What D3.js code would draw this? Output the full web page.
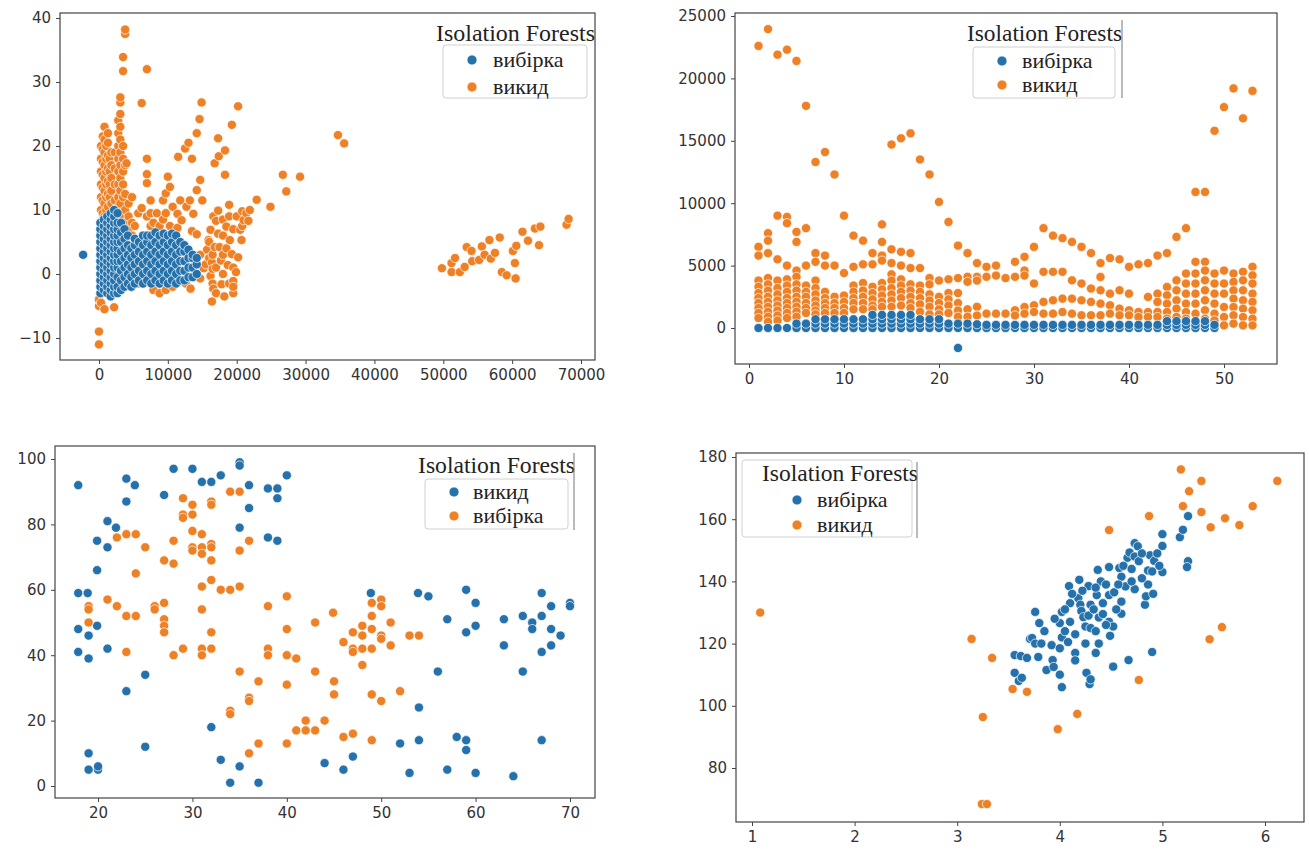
<!DOCTYPE html>
<html><head><meta charset="utf-8">
<script src="https://cdn.jsdelivr.net/npm/d3@7"></script>
<style>body{margin:0;background:#fff}</style>
</head><body><svg id="c" width="1309" height="851"></svg>
<script>
// ---------- DATA ----------
// Panel 1 (top-left): columns [x, [y values]]
const p1Blue = [
 [-2300,[3]],
 [200,[-3,-2,-1,0,1,2,3,4,5,6,7,8]],
 [700,[-2.5,-1.5,-0.5,0.5,1.5,2.5,3.5,4.5,5.5,6.5,7.5,8.5]],
 [1200,[-3,-2,-1,0,1,2,3,4,5,6,7,8,9]],
 [1700,[-3.5,-2.5,-1.5,-0.5,0.5,1.5,2.5,3.5,4.5,5.5,6.5,7.5,8.5,9.5]],
 [2200,[-3,-2,-1,0,1,2,3,4,5,6,7,8,9,10]],
 [2700,[-3,-2,-0.5,1,2,3,4,5,6,7,8,9.5]],
 [3200,[-2.5,-1,0.5,2,3.5,5,6.5,8]],
 [3700,[-2,-0.5,1,2.5,4,5.5,7]],
 [4200,[-1.5,0,1.5,3,4.5,6]],
 [4700,[-2,-0.5,1,2.5,4]],
 [5200,[-1.5,0,1.5,3,4.5,5.5]],
 [5800,[-1,0.5,2,3.5,5]],
 [6400,[-1.5,0,1.5,3,4.5,6]],
 [7000,[-1,0.5,2,3.5,5,6]],
 [7600,[-1.5,0,1.5,3,4.5,6]],
 [8200,[-1,0.5,2,3.5,5,6.5]],
 [8800,[-1.5,0,1.5,3,4.5,6]],
 [9400,[-1,0.5,2,3.5,5,6.3]],
 [10000,[-1.5,0,1.5,3,4.5,6]],
 [10600,[-1,0.5,2,3.5,5,6.3]],
 [11200,[-1.5,0,1.5,3,4.5,6]],
 [11800,[-1,0.5,2,3.5,5]],
 [12400,[-1,0.5,2,3.5,4.5]],
 [13000,[-0.5,1,2.5,3.8]],
 [13600,[-0.5,1,2.5,3]],
 [14200,[0,1.5,2.5]]
];
const p1Orange = [
 [0,[-11,-9,-5,-4]],
 [300,[-4.5,8,10,12,14,16,18,20]],
 [550,[9.5,11.5,13.5,15.5,17.5,19.5,21.5]],
 [800,[-5.5,9,11,13,15,17,19,21,23]],
 [1050,[10,12,14,16,18,20]],
 [1300,[10.5,12.5,14.5,16.5,18.5,20.5,22]],
 [1550,[12,14,16,18]],
 [1800,[11,13,15,17,19]],
 [2200,[-5.2]],
 [2300,[11.5,14,16.5,19]],
 [2800,[10.5,12,14,16,18,20,22,24]],
 [3100,[11,13,15,17,19,21,23,25,26.8,27.6]],
 [3500,[9,12,14,16,18,20,31.7,33.9]],
 [3800,[8,10,12.5,17,37.5,38.2]],
 [4000,[17.3]],
 [4300,[7,9,11]],
 [4800,[6,8,12,-2]],
 [5200,[7.5]],
 [5700,[9.5,-1.5]],
 [6200,[10.3,26.7]],
 [6960,[9,14.2,15.6,18,32]],
 [7500,[7.5,9.5,11.5]],
 [7900,[8,-2.5]],
 [8400,[9.5]],
 [8800,[7.5,-3]],
 [9300,[11.5,8.5]],
 [9700,[12.6,9.5,-2.5]],
 [10000,[15.2]],
 [10300,[13.6,7.5]],
 [10700,[10.5,-2]],
 [11400,[9.4,7.2]],
 [11500,[18.3]],
 [11800,[11.5]],
 [12000,[8.4]],
 [12500,[19.6]],
 [12600,[-1.5]],
 [12700,[10.5]],
 [13000,[20.5]],
 [13200,[11.5]],
 [13300,[-2.3]],
 [13500,[18,6.7]],
 [13700,[9.4]],
 [14200,[22,13.1,6.2]],
 [14600,[24.2]],
 [14700,[14.7,3,-0.7]],
 [14900,[26.8]],
 [15000,[11.5]],
 [15200,[0.9]],
 [15500,[1.5]],
 [15700,[3.8]],
 [15900,[5.3]],
 [16000,[2.5,5]],
 [16200,[6.9,-0.3]],
 [16400,[1.8,-4.3]],
 [16500,[-1.5,0.8,3]],
 [16600,[9,-2.3]],
 [16800,[4.2,17.3]],
 [17000,[8.3,1,-3]],
 [17300,[6.3,9.9,21.2]],
 [17400,[18.4]],
 [17500,[4.2]],
 [17700,[2.1]],
 [17800,[-1.6]],
 [18000,[0,3,6,8.5]],
 [18200,[-3.5]],
 [18300,[19.3,15.5]],
 [18500,[7.4,4]],
 [18700,[1.4]],
 [18900,[10.8,9,-1.5]],
 [19000,[5.3]],
 [19300,[3.1,23.3]],
 [19500,[1,-1.1,-3,7,-2]],
 [19900,[0.3]],
 [20000,[9]],
 [20200,[2.6,26.2]],
 [20500,[6.9]],
 [20700,[5.3]],
 [20800,[7.5,9.8]],
 [21000,[8.4]],
 [21400,[9.5]],
 [21700,[8.3]],
 [21900,[10]],
 [22900,[11.6]],
 [24900,[10.5]],
 [26700,[15.5]],
 [27200,[12.9]],
 [29200,[15.2]],
 [34700,[21.7]],
 [35600,[20.4]],
 [49800,[0.9]],[51200,[1.7,0.3]],[51700,[2.5]],[52400,[0.3]],[53100,[1.1]],
 [53400,[4.2]],[54100,[3.6]],[54200,[2]],[55200,[2.2]],[55600,[4.3]],[56000,[3]],
 [56700,[5.3]],[56900,[2.4]],[57500,[3.3]],[58200,[5.7]],[58500,[0.3]],[59200,[-0.2]],
 [60500,[-0.7]],[60400,[1.7]],[60100,[3.6]],[60600,[4.4]],[61500,[6.6]],[62300,[5.2]],
 [63300,[7.1]],[64100,[7.4]],[63900,[4.5]],[67900,[7.7]],[68200,[8.6]]
];
const p1XTicks = [0,10000,20000,30000,40000,50000,60000,70000];
const p1YTicks = [-10,0,10,20,30,40];

// Panel 2 (top-right): columns [x, [y values]]
const p2Blue = [
 [1,[0]],[2,[0]],[3,[0]],[4,[0]],[5,[0,350]],[6,[0,350]],
 [7,[0,350,700]],[8,[0,350,700]],[9,[0,350,700]],[10,[0,350,700]],[11,[0,350,700]],[12,[0,350,700]],
 [13,[0,350,700,1050]],[14,[0,350,700,1050]],[15,[0,350,700,1050]],[16,[0,350,700,1050]],[17,[0,350,700,1050]],
 [18,[0,350,700]],[19,[0,350,700]],[20,[0,350,700]],[21,[0,350]],[22,[0,350,-1600]],[23,[0,350]],[24,[0,300]],
 [25,[0,250]],[26,[0,250]],[27,[0,250]],[28,[0,250]],[29,[0,250]],[30,[0,250]],[31,[0,250]],[32,[0,250]],
 [33,[0,250]],[34,[0,250]],[35,[0,250]],[36,[0,250]],[37,[0,250]],[38,[0,250]],[39,[0,250]],[40,[0,250]],
 [41,[0,250]],[42,[0,250]],[43,[0,250]],[44,[0,250,550]],[45,[0,250,550]],[46,[0,250,550]],[47,[0,250,550]],
 [48,[0,250,550]],[49,[0,250]]
];
const p2Orange = [
 [1,[22600,6500,5800,3800,3300,2800,2400,2000,1600,1200,800]],
 [2,[23950,7600,7000,6000,4000,3500,3000,2500,2100,1700,1300,900,500]],
 [3,[21900,9000,5500,3800,3200,2700,2200,1800,1400,1000,600]],
 [4,[22300,8900,8400,5000,3900,3400,2900,2400,2000,1600,1200,800]],
 [5,[21400,7700,6900,4600,4100,3500,3000,2500,2100,1700,1300,900]],
 [6,[17800,8000,5000,3400,2900,2500,2000,1600,1200]],
 [7,[13300,6000,5300,3800,3200,2700,2200,1800,1400,1100]],
 [8,[14100,5800,5000,2900,2400,2000,1600,1200]],
 [9,[12300,5000,2500,2000,1600,1200]],
 [10,[9000,4400,2600,2100,1600,1200]],
 [11,[7400,4900,3400,2900,2400,2000,1500]],
 [12,[7000,5100,3600,3000,2500,2000,1500]],
 [13,[6000,5100,3300,2800,2300,1800,1500]],
 [14,[8300,6900,5800,5400,3600,3100,2600,2100,1700]],
 [15,[14700,6300,5200,4300,3800,3200,2700,2200,1700]],
 [16,[15200,6100,5000,3900,3400,2900,2400,1800]],
 [17,[15600,6000,4800,3500,3000,2500,2000,1600]],
 [18,[13500,4800,3400,2900,2400,1900,1300]],
 [19,[12300,4000,3500,2700,2200,1700,1100]],
 [20,[10100,3800,2500,2000,1500,1100]],
 [21,[8500,3900,2800,2300,1800,1200]],
 [22,[6600,4000,2800,2000,1400,900]],
 [23,[6000,4100,3700,1500,900]],
 [24,[5200,4100,3800,1700,1000]],
 [25,[4900,4100,1150]],
 [26,[5000,4200,1150]],
 [27,[4000,1150]],
 [28,[5300,4100,1420,1000]],
 [29,[5700,4600,4200,1680,1150]],
 [30,[6500,3560,1820,1280]],
 [31,[8000,4500,2090,1150]],
 [32,[7400,4500,2220,1150]],
 [33,[7200,4500,2350,1280]],
 [34,[6900,3820,2350,1150]],
 [35,[6500,3560,2220,1020]],
 [36,[6000,3160,2090,1020]],
 [37,[5200,4090,3020,1950,1020]],
 [38,[5600,2750,1820,1150]],
 [39,[5500,3020,1550,1020]],
 [40,[4900,2750,1420,1020]],
 [41,[5100,1280,880]],
 [42,[5200,2490,1280,880]],
 [43,[5800,2750,2090,1280,880]],
 [44,[6000,3290,2620,1950,1280,750]],
 [45,[7300,3820,3020,2220,1550,880]],
 [46,[8000,4360,3560,2750,1950,1280,750]],
 [47,[10900,5300,4360,3560,2750,1950,1150]],
 [48,[10900,5300,4600,3820,3020,2220,1420,750]],
 [49,[15800,4360,3560,2750,1950,1150,610]],
 [50,[17700,4600,3560,2750,1680,880,210]],
 [51,[19200,4360,3690,3020,2350,1680,1020,350]],
 [52,[16800,4500,3820,3020,2220,1550,880,210]],
 [53,[19000,4900,4220,3560,2750,2090,1420,750,210]]
];
const p2XTicks = [0,10,20,30,40,50];
const p2YTicks = [0,5000,10000,15000,20000,25000];

// Panel 3 (bottom-left): [x, y]
const p3Blue = [[17.9,92],[23,94],[23.9,92],[23,87],[21,81],[21.9,79],[19.9,75],[21,73],[19.9,66],[17.9,59],[18.9,59],[17.9,48],[19,46],[19.9,49],[17.9,41],[19,39],[21,42],[25,34],[23,29],[25,12],[19,10],[19,5],[20,5],[20,6],[28,97],[30,97],[27,89],[31,93],[32,93],[33,95],[35,99],[35,98],[36,92],[36,85],[35,79],[38,91],[39,91],[39,88],[38,76],[39,75],[40,95],[32,18],[33,8],[34,1],[35,6],[37,1],[44,7],[48.9,59],[53.9,59],[55,58],[59,60],[60,56],[57,51],[59,47],[60,49],[63,51],[63,43],[56,35],[65,52],[66,50],[66,48],[67,59],[67,52],[68,55],[68,48],[69,46],[68,43],[67,41],[70,56],[70,55],[65,35],[54,24],[54,14],[52,13],[58,15],[59,14],[59,11],[67,14],[47,9],[46,5],[53,4],[57,5],[60,4],[64,3]];
const p3Orange = [[29,88],[29,83],[29,82],[30,86],[30,83],[32,87],[32,86],[34,90],[35,90],[22,76],[23,77],[24,77],[25,73],[28,75],[27,69],[28,68],[30,78],[31,77],[30,73],[30,72],[31,73],[31,71],[32,74],[32,73],[32,69],[35,72],[36,75],[24,65],[31,61],[32,63],[33,60],[34,60],[35,61],[19,55],[19,54],[19,50],[21,57],[22,55],[23,52],[24,52],[26,55],[26,54],[27,56],[27,51],[27,49],[27,47],[31,54],[32,47],[23,41],[28,40],[29,42],[31,42],[31,40],[32,42],[38,55],[38,42],[38,40],[40,58],[40,48],[40,40],[41,39],[43,50],[43,35],[35,35],[37,32],[36,27],[36,26],[40,31],[34,23],[34,22],[41,17],[42,20],[42,17],[43,17],[44,20],[40,13],[37,13],[36,10],[44.9,53],[46,44],[47,47],[47,42],[47,41],[48,49],[48,46],[48,42],[49,52],[49,48],[49,42],[49,56],[50,57],[50,55],[50,46],[50,45],[51,50],[51,43],[53,46],[54,46],[45,32],[45,28],[48,37],[49,28],[50,26],[52,29],[46,15],[47,16],[49,14]];
const p3XTicks = [20,30,40,50,60,70];
const p3YTicks = [0,20,40,60,80,100];

// Panel 4 (bottom-right): [x, y]
const p4Blue = [[3.56,116.3],[3.62,116],[3.68,115.4],[3.71,121.5],[3.56,110.6],[3.6,108],[3.63,109],[3.76,130.2],[3.8,126.6],[3.73,121.8],[3.76,120],[3.82,120],[3.79,115.7],[3.87,111.5],[3.93,114.7],[3.94,112.5],[3.92,119.5],[4.0,118.5],[4.02,130.2],[4.0,126.6],[4.02,106],[4.02,122],[4.08,120.5],[4.1,127],[4.09,138.5],[4.15,117],[4.15,114.6],[4.19,140.5],[4.18,134.6],[4.2,132.5],[4.21,130.5],[4.23,128.5],[4.25,125.5],[4.26,110.6],[4.28,138.5],[4.28,129],[4.3,125],[4.29,107],[4.3,108.5],[4.3,132.5],[4.36,135.6],[4.37,143.7],[4.38,128.4],[4.38,120],[4.4,140],[4.42,129.5],[4.48,144.6],[4.48,135.6],[4.48,127],[4.49,122.5],[4.52,112.6],[4.52,125.5],[4.53,136.5],[4.58,144.3],[4.6,133.5],[4.6,141.5],[4.6,129.6],[4.64,138.4],[4.67,114.7],[4.66,147.6],[4.68,149.3],[4.73,152.3],[4.73,148],[4.73,137.5],[4.76,151.3],[4.77,146.5],[4.83,132.5],[4.84,135.2],[4.86,139],[4.86,143.5],[4.9,117.3],[4.88,148.4],[4.9,143.2],[4.91,136],[4.92,146.6],[5.0,151.4],[5.0,155.2],[5.0,143],[5.17,154.2],[5.2,156.6],[5.25,161],[5.25,146.5],[5.24,144.6],[4.1,133],[4.05,124],[4.12,136],[4.22,137],[4.33,131],[4.35,138],[4.42,133],[4.45,139],[4.55,131],[4.57,139],[4.62,145],[4.7,140],[4.7,144],[4.8,141],[4.8,149],[4.95,149],[4.97,145],[3.85,124],[3.95,128],[4.05,131],[4.15,123],[4.25,120],[4.35,124],[4.45,126],[4.0,110],[4.35,117]];
const p4Orange = [[1.08,130],[3.14,121.5],[3.34,115.4],[3.25,96.4],[3.54,105.4],[3.68,104.5],[3.24,68.4],[3.29,68.4],[5.18,176],[5.38,172.3],[5.26,169],[5.2,164.2],[5.38,162.3],[4.87,161],[4.48,156.5],[5.47,157.4],[5.61,160.3],[5.75,158.1],[5.88,164.2],[6.12,172.3],[5.58,125.3],[5.46,121.4],[4.77,108.3],[4.17,97.4],[3.98,92.5]];
const p4XTicks = [1,2,3,4,5,6];
const p4YTicks = [80,100,120,140,160,180];

const legendTitle = "Isolation Forests";
const labSample = "вибірка", labOut = "викид";

// ---------- DRAW ----------
const BLUE = "#2471ab", ORANGE = "#ee8126";
const flat = cols => cols.flatMap(([x, ys]) => ys.map(y => [x, y]));
const svg = d3.select("#c");

function panel(c) {
  const x = d3.scaleLinear().domain(c.xd).range([c.L, c.R]);
  const y = d3.scaleLinear().domain(c.yd).range([c.B, c.T]);
  const g = svg.append("g");
  c.series.forEach(s => {
    g.append("g").selectAll("circle").data(s.pts).join("circle")
      .attr("cx", d => x(d[0])).attr("cy", d => y(d[1])).attr("r", 4.6)
      .attr("fill", s.color).attr("stroke", "#fff").attr("stroke-width", 0.7);
  });
  const ax = g.append("g").attr("transform", `translate(0,${c.B})`)
    .call(d3.axisBottom(x).tickValues(c.xt).tickFormat(d3.format("d")).tickSize(4).tickPadding(5).tickSizeOuter(0));
  const ay = g.append("g").attr("transform", `translate(${c.L},0)`)
    .call(d3.axisLeft(y).tickValues(c.yt).tickFormat(d3.format("d")).tickSize(4).tickPadding(5).tickSizeOuter(0));
  [ax, ay].forEach(a => {
    a.select(".domain").remove();
    a.selectAll("text").attr("font-family", "DejaVu Sans").attr("font-size", 15).attr("fill", "#333");
    a.selectAll("line").attr("stroke", "#444");
  });
  g.append("rect").attr("x", c.L).attr("y", c.T).attr("width", c.R - c.L).attr("height", c.B - c.T)
    .attr("fill", "none").attr("stroke", "#444").attr("stroke-width", 1.2);
  // legend
  const L = c.legend;
  g.append("rect").attr("x", L.box[0]).attr("y", L.box[1]).attr("width", L.box[2]).attr("height", L.box[3])
    .attr("rx", 3).attr("fill", "#fff").attr("fill-opacity", 0.8).attr("stroke", "#d0d0d0");
  g.append("text").attr("x", L.title[0]).attr("y", L.title[1]).attr("dy", "0.35em")
    .attr("font-family", "Liberation Serif").attr("font-size", 24).attr("fill", "#222")
    .attr("textLength", L.title[2]).attr("lengthAdjust", "spacingAndGlyphs").text(legendTitle);
  L.items.forEach(([lab, col, yy]) => {
    g.append("circle").attr("cx", L.mx).attr("cy", yy).attr("r", 5).attr("fill", col).attr("stroke", "#fff").attr("stroke-width", 0.7);
    g.append("text").attr("x", L.tx).attr("y", yy).attr("dy", "0.3em")
      .attr("font-family", "Liberation Serif").attr("font-size", 22).attr("fill", "#222").text(lab);
  });
  if (L.vline) g.append("line").attr("x1", L.vline[0]).attr("x2", L.vline[0]).attr("y1", L.vline[1]).attr("y2", L.vline[2])
    .attr("stroke", "#777").attr("stroke-width", 1);
}

panel({L:60, R:595, T:13, B:360, xd:[-5660,72030], yd:[-13.44,40.78], xt:p1XTicks, yt:p1YTicks,
  series:[{pts:flat(p1Orange), color:ORANGE},{pts:flat(p1Blue), color:BLUE}],
  legend:{title:[436,33,159], box:[443,45,144,53], mx:472, tx:493,
    items:[[labSample,BLUE,60],[labOut,ORANGE,87]], vline:null}});

panel({L:735, R:1277, T:13, B:364, xd:[-1.474,55.58], yd:[-2885,25240], xt:p2XTicks, yt:p2YTicks,
  series:[{pts:flat(p2Orange), color:ORANGE},{pts:flat(p2Blue), color:BLUE}],
  legend:{title:[967,33,155], box:[973,47,142,51], mx:1002, tx:1022,
    items:[[labSample,BLUE,61],[labOut,ORANGE,85]], vline:[1122,20,98]}});

panel({L:55, R:595, T:446, B:798, xd:[15.44,72.65], yd:[-3.67,103.98], xt:p3XTicks, yt:p3YTicks,
  series:[{pts:p3Blue, color:BLUE},{pts:p3Orange, color:ORANGE}],
  legend:{title:[418,465,157], box:[425,479,143,50], mx:454, tx:473,
    items:[[labOut,BLUE,492],[labSample,ORANGE,516]], vline:[574,453,530]}});

panel({L:736, R:1304, T:453, B:822, xd:[0.844,6.38], yd:[62.64,181.29], xt:p4XTicks, yt:p4YTicks,
  series:[{pts:p4Blue, color:BLUE},{pts:p4Orange, color:ORANGE}],
  legend:{title:[762,473,156], box:[742,460,170,77], mx:797, tx:817,
    items:[[labSample,BLUE,500],[labOut,ORANGE,525]], vline:[917,462,538]}});
</script>
</body></html>
